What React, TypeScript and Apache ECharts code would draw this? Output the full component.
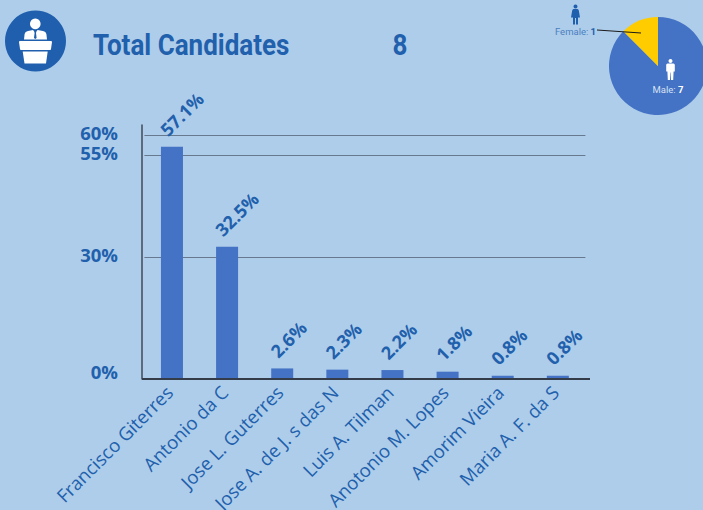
import React, { useEffect, useRef } from "react";
import * as echarts from "echarts";

const candidates = ["Francisco Giterres", "Antonio da C", "Jose L. Guterres", "Jose A. de J. s das N", "Luis A. Tilman", "Anotonio M. Lopes", "Amorim Vieira", "Maria A. F. da S"];
const voteShare = [57.1, 32.5, 2.6, 2.3, 2.2, 1.8, 0.8, 0.8];
const yTicks = [0, 30, 55, 60];
const genderData = [
  { name: "Male", value: 7 },
  { name: "Female", value: 1 },
];
const titleText = "Total Candidates";
const totalCandidates = "8";

const BLUE = "#2160ac";
const BG = "#aecdea";
const FONT = "'Open Sans', 'Noto Sans', sans-serif";

const speaker = "M35.3 18.6a5.3 5.3 0 1 1-.01 0Z M24 39.5 L24.6 34 Q25 31.5 28 31 L33 30 L34.2 31.5 L34.6 33 L34 38 L35.3 39 L36.6 38 L36 33 L36.4 31.5 L37.6 30 L43 31 Q46 31.5 46.4 34 L47 39.5 Z M20 41 L51 41 Q52 41 52 42 L51 49 Q51 50 50 50 L21 50 Q20 50 20 49 L19 42 Q19 41 20 41 Z M22.7 51.5 L47.7 51.5 L46 63.5 L24.5 63.5 Z";
const woman = "M575.5 4.5a2 2 0 1 1-.01 0Z M573.5 9 L577.5 9 Q578.5 9 578.8 10.5 L580 17.5 L578 17.5 L578 24.5 L576 24.5 L576 18 L575 18 L575 24.5 L573 24.5 L573 17.5 L571 17.5 L572.2 10.5 Q572.5 9 573.5 9 Z";
const man = "M670.5 59a2 2 0 1 1-.01 0Z M667.5 63.500 L673.500 63.500 Q674.800 63.500 674.800 65 L674.800 71.500 L673.600 71.500 L673.200 80 L671 80 L670.700 72.500 L670.300 72.500 L670 80 L667.800 80 L667.400 71.500 L666.200 71.500 L666.200 65 Q666.200 63.500 667.500 63.500 Z";

echarts.graphic.registerShape("speakerIcon", echarts.graphic.extendPath(speaker, {}));
echarts.graphic.registerShape("womanIcon", echarts.graphic.extendPath(woman, {}));
echarts.graphic.registerShape("manIcon", echarts.graphic.extendPath(man, {}));

export default function App() {
  const ref = useRef<HTMLDivElement>(null);
  useEffect(() => {
    const chart = echarts.init(ref.current!, null, { renderer: "svg" });
    chart.setOption({
      animation: false,
      backgroundColor: BG,
      grid: { left: 144.4, width: 441, top: 125, height: 254, containLabel: false, outerBoundsMode: "none" },
      xAxis: {
        type: "category",
        data: candidates,
        axisLine: { show: false },
        axisTick: { show: false },
        axisLabel: { interval: 0, rotate: 45, fontFamily: FONT, fontSize: 18.5, color: BLUE, margin: 7, padding: [0, 4, 0, 0] },
      },
      yAxis: {
        type: "value",
        min: 0,
        max: 62.46,
        offset: 2.4,
        axisLine: { show: true, lineStyle: { color: "#3f4a57", width: 1.5 } },
        axisTick: { show: false, customValues: yTicks },
        splitLine: { show: true, lineStyle: { color: "#66798f", width: 1 } },
        axisLabel: {
          customValues: yTicks,
          formatter: (v: number) => (v === 0 ? `{z|${v}%}` : `{a|${v}%}`),
          margin: 24,
          rich: {
            a: { fontFamily: FONT, fontWeight: 700, fontSize: 18.5, color: BLUE, padding: [0, 0, 6, 0] },
            z: { fontFamily: FONT, fontWeight: 700, fontSize: 18.5, color: BLUE, padding: [0, 0, 16, 0] },
          },
        },
      },
      series: [
        {
          type: "bar",
          data: voteShare,
          barWidth: 22,
          itemStyle: { color: "#4472c4" },
          label: {
            show: true,
            position: "top",
            rotate: 45,
            align: "left",
            verticalAlign: "middle",
            distance: 12,
            offset: [-4.5, -7.8],
            formatter: (p: any) => p.value.toFixed(1) + "%",
            fontFamily: FONT,
            fontWeight: 700,
            fontSize: 18,
            color: BLUE,
          },
        },
        {
          type: "pie",
          center: [658, 66],
          radius: [0, 49],
          startAngle: 90,
          clockwise: true,
          data: genderData,
          color: ["#4472c4", "#ffcc00"],
          itemStyle: { borderWidth: 0 },
          labelLine: { show: false },
          label: {
            position: "inside",
            fontFamily: "Roboto, sans-serif",
            fontSize: 9.5,
            formatter: (p: any) =>
              p.dataIndex === 0 ? `{n|${p.name}: }{v|${p.value}}` : `{fn|${p.name}: }{fv|${p.value}}`,
            rich: {
              n: { fontFamily: "Roboto, sans-serif", fontSize: 9.5, color: "#d5e2f4" },
              v: { fontFamily: "Roboto, sans-serif", fontSize: 9.5, fontWeight: 700, color: "#ffffff" },
              fn: { fontFamily: "Roboto, sans-serif", fontSize: 9.5, color: "#4a7fc1" },
              fv: { fontFamily: "Roboto, sans-serif", fontSize: 9.5, fontWeight: 700, color: "#1f5fae" },
            },
          },
          labelLayout: (p: any) =>
            p.dataIndex === 0
              ? { x: 668, y: 89, align: "center", verticalAlign: "middle" }
              : { x: 575.5, y: 31.5, align: "center", verticalAlign: "middle" },
        },
      ],
      graphic: [
        { type: "circle", shape: { cx: 35.5, cy: 41, r: 30.5 }, style: { fill: "#1f5fae" } },
        { type: "speakerIcon", x: 0, y: 0, style: { fill: "#ffffff" } },
        { type: "womanIcon", x: 0, y: 0, style: { fill: "#1f5fae" } },
        { type: "manIcon", x: 0, y: 0, style: { fill: "#ffffff" }, z: 10 },
        { type: "line", shape: { x1: 597, y1: 30, x2: 641, y2: 33 }, style: { stroke: "#1a1a1a", lineWidth: 1 }, z: 10 },
        { type: "line", shape: { x1: 142, y1: 379, x2: 590, y2: 379 }, style: { stroke: "#333c48", lineWidth: 2 }, z: 10 },
        {
          type: "text",
          x: 93,
          y: 45,
          scaleX: 0.867,
          style: { text: titleText, fontFamily: "Roboto, sans-serif", fontWeight: 700, fontSize: 30, fill: BLUE, verticalAlign: "middle" },
        },
        {
          type: "text",
          x: 400,
          y: 45,
          scaleX: 0.867,
          style: { text: totalCandidates, fontFamily: "Roboto, sans-serif", fontWeight: 700, fontSize: 30, fill: BLUE, align: "center", verticalAlign: "middle" },
        },
      ],
    });
    return () => chart.dispose();
  }, []);
  return <div ref={ref} style={{ position: "fixed", left: 0, top: 0, width: 703, height: 510 }} />;
}
